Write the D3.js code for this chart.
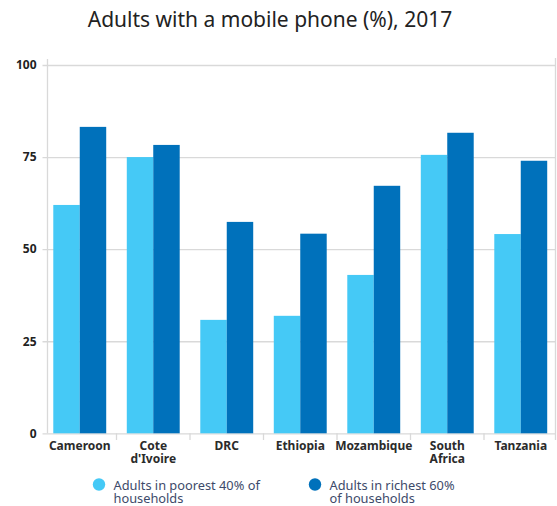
<!DOCTYPE html>
<html>
<head>
<meta charset="utf-8">
<script src="https://cdn.jsdelivr.net/npm/d3@7"></script>
<style>
  html, body { margin: 0; padding: 0; background: #fff; }
  svg { display: block; }
  text { font-family: "Noto Sans", "Open Sans", sans-serif; }
</style>
</head>
<body>
<svg id="chart" width="557" height="506"></svg>
<script>
// Categories, series and ticks
const countries = ["Cameroon", "Cote d'Ivoire", "DRC", "Ethiopia", "Mozambique", "South Africa", "Tanzania"];
const countryLines = [["Cameroon"], ["Cote", "d'Ivoire"], ["DRC"], ["Ethiopia"], ["Mozambique"], ["South", "Africa"], ["Tanzania"]];
const poorest40 = [62.0, 75.0, 30.8, 31.9, 43.0, 75.6, 54.1];
const richest60 = [83.2, 78.3, 57.4, 54.2, 67.2, 81.6, 74.0];
const seriesNames = ["Adults in poorest 40% of households", "Adults in richest 60% of households"];
const legendLines = [["Adults in poorest 40% of", "households"], ["Adults in richest 60%", "of households"]];
const yTicks = [0, 25, 50, 75, 100];

const colors = ["#45c9f6", "#0071bb"];
const gridColor = "#d9d9d9";

const svg = d3.select("#chart");

const x = d3.scaleBand().domain(countries).range([43, 557.5]).paddingInner(0.28).paddingOuter(0.14);
const xs = d3.scaleBand().domain([0, 1]).range([0, x.bandwidth()]);
const y = d3.scaleLinear().domain([0, 100]).range([433.3, 65]);

// Title
svg.append("text")
  .attr("x", 270).attr("y", 27)
  .attr("text-anchor", "middle")
  .attr("font-size", 21)
  .attr("fill", "#222")
  .text("Adults with a mobile phone (%), 2017");

// Horizontal grid and y-axis labels
const yAxis = d3.axisLeft(y).tickValues(yTicks).tickSize(-(556 - 47.5)).tickPadding(11).tickFormat(d3.format("d"));
const gy = svg.append("g").attr("transform", "translate(47.5,0)").call(yAxis);
gy.select(".domain").remove();
gy.selectAll(".tick line").attr("stroke", gridColor).attr("stroke-width", 1.3).attr("x1", -5);
gy.selectAll(".tick text")
  .attr("font-family", "'Noto Sans', sans-serif")
  .attr("font-size", 12).attr("font-weight", "bold").attr("fill", "#222");

// Vertical frame lines
svg.append("line").attr("x1", 47.5).attr("x2", 47.5).attr("y1", 59).attr("y2", y(0))
  .attr("stroke", gridColor).attr("stroke-width", 1.3);
svg.append("line").attr("x1", 555.5).attr("x2", 555.5).attr("y1", 58).attr("y2", 440)
  .attr("stroke", gridColor).attr("stroke-width", 1.3);

// Category separators on the baseline
const step = x.step();
const seps = countries.slice(1).map(c => x(c) - (step - x.bandwidth()) / 2);
svg.append("g").selectAll("line").data(seps).join("line")
  .attr("x1", d => d).attr("x2", d => d)
  .attr("y1", y(0)).attr("y2", 440)
  .attr("stroke", gridColor).attr("stroke-width", 1.3);

// Bars
const groups = svg.append("g").selectAll("g").data(countries).join("g")
  .attr("transform", d => `translate(${x(d)},0)`);
groups.selectAll("rect")
  .data((d, i) => [poorest40[i], richest60[i]])
  .join("rect")
  .attr("x", (d, j) => xs(j))
  .attr("width", xs.bandwidth())
  .attr("y", d => y(d))
  .attr("height", d => y(0) - y(d))
  .attr("fill", (d, j) => colors[j]);

// Category labels, one text per line
const xl = svg.append("g").selectAll("g").data(countries).join("g")
  .attr("transform", d => `translate(${x(d) + x.bandwidth() / 2},450)`);
xl.selectAll("text").data((d, i) => countryLines[i]).join("text")
  .attr("y", (d, k) => k * 13)
  .attr("text-anchor", "middle")
  .attr("font-size", 12).attr("font-weight", "bold").attr("fill", "#2b2b2b")
  .text(d => d);

// Legend
const legendX = [99, 315];
const lg = svg.append("g").selectAll("g").data(seriesNames).join("g")
  .attr("transform", (d, i) => `translate(${legendX[i]},484.5)`);
lg.append("circle").attr("r", 6.2).attr("fill", (d, i) => colors[i]);
lg.selectAll("text").data((d, i) => legendLines[i]).join("text")
  .attr("x", 14.5).attr("y", (d, k) => 5.5 + k * 13)
  .attr("font-size", 12.8).attr("fill", "#3d4a6a")
  .text(d => d);
</script>
</body>
</html>
